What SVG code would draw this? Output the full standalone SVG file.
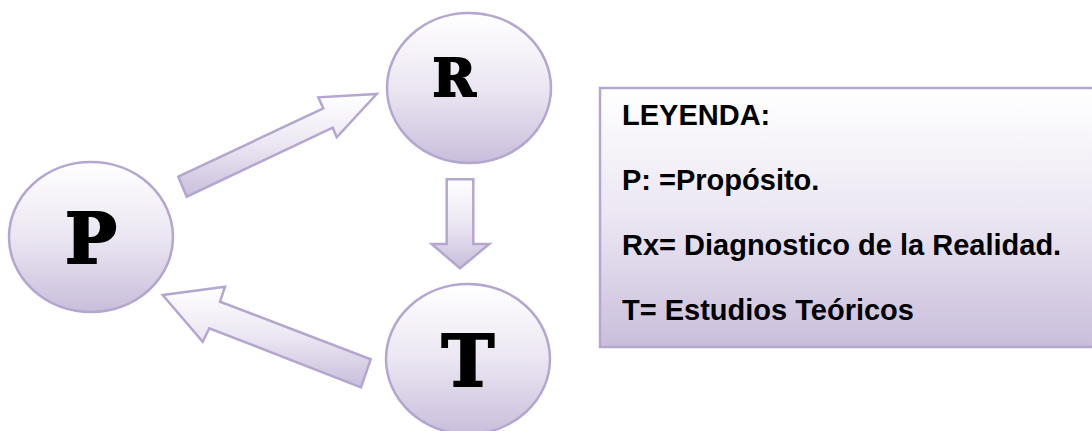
<svg xmlns="http://www.w3.org/2000/svg" width="1092" height="431" viewBox="0 0 1092 431">
<defs>
<linearGradient id="g" x1="0" y1="0" x2="0" y2="1">
<stop offset="0" stop-color="#ffffff"/>
<stop offset="0.5" stop-color="#ebe6f2"/>
<stop offset="1" stop-color="#c9bedb"/>
</linearGradient>
<style>
.shape{fill:url(#g);stroke:#b4a6cf;stroke-width:2.5}
.big{font-family:"DejaVu Serif",serif;font-weight:bold;fill:#000;stroke:#000;stroke-width:2;text-anchor:middle}
.leg{font-family:"Liberation Sans",Arial,sans-serif;font-weight:bold;font-size:29px;fill:#000}
</style>
</defs>
<rect width="1092" height="431" fill="#fff"/>
<g id="connectors">
<polygon class="shape" points="178.3,176.7 323.3,108.3 318.3,97.3 376.7,94 336.7,137.3 332.7,127.7 186.7,196.7"/>
<polygon class="shape" points="162.7,295 225,286.7 220,301.7 370.7,359.3 361,387.3 209.3,328.3 202.7,341.7"/>
<polygon class="shape" points="446.7,179.3 473.3,179.3 473.3,244 489.3,244 460,268.3 431.7,244 446.7,244"/>
</g>
<g id="node-P">
<ellipse class="shape" cx="91" cy="237" rx="82" ry="75"/>
<text class="big" x="91" y="263" font-size="69">P</text>
</g>
<g id="node-R">
<ellipse class="shape" cx="469" cy="88" rx="82" ry="75"/>
<text class="big" x="454" y="96" font-size="52">R</text>
</g>
<g id="node-T">
<ellipse class="shape" cx="468" cy="359" rx="82" ry="75"/>
<text class="big" x="468" y="386" font-size="71">T</text>
</g>
<g id="legend">
<rect class="shape" x="600" y="88" width="520" height="259"/>
<text class="leg" x="622" y="125">LEYENDA:</text>
<text class="leg" x="622" y="190">P: =Propósito.</text>
<text class="leg" x="622" y="255">Rx= Diagnostico de la Realidad.</text>
<text class="leg" x="622" y="320">T= Estudios Teóricos</text>
</g>
</svg>
